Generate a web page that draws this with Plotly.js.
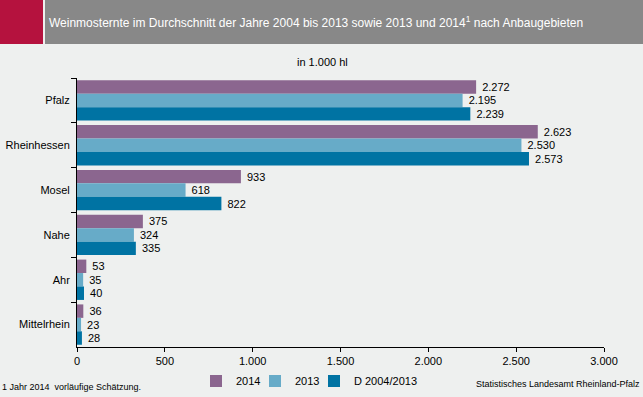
<!DOCTYPE html>
<html><head><meta charset="utf-8">
<script src="https://cdn.plot.ly/plotly-3.0.1.min.js"></script>
<style>html,body{margin:0;padding:0;background:#EEF0EF}</style>
</head><body><div id="chart" style="width:643px;height:397px"></div>
<script>
const categories = ["Pfalz","Rheinhessen","Mosel","Nahe","Ahr","Mittelrhein"];
const seriesNames = ["2014","2013","D 2004/2013"];
const v2014 = [2272,2623,933,375,53,36];
const v2013 = [2195,2530,618,324,35,23];
const vAvg  = [2239,2573,822,335,40,28];
const xTicks = [0,500,1000,1500,2000,2500,3000];
const colors = ["#8B668F","#67ABC8","#0073A3"];
const font = "Liberation Sans, Arial, sans-serif";
const legendIds = ["legend","legend2","legend3"];
const legendX = [196,255,314];

const traces = [v2014,v2013,vAvg].map((vals,i)=>({
  type:"bar", orientation:"h", name:seriesNames[i], legend:legendIds[i],
  x:vals, y:categories, marker:{color:colors[i]},
  text:vals, texttemplate:"\u00a0%{x:,}", textposition:"outside",
  textfont:{size:11,color:"#000",family:font}, cliponaxis:false,
  hoverinfo:"none"
}));

const layout = {
  width:643, height:397,
  paper_bgcolor:"#EEF0EF", plot_bgcolor:"#EEF0EF",
  font:{family:font,size:11,color:"#000"},
  separators:",.",
  margin:{l:77,r:39,t:78,b:50},
  barmode:"group", bargap:0.1, bargroupgap:0,
  showlegend:true,
  xaxis:{range:[0,3000],tickvals:xTicks,tickformat:",d",showgrid:false,zeroline:false,
    showline:true,linecolor:"#000",linewidth:1,ticks:"outside",ticklen:4,tickcolor:"#000",
    tickfont:{size:11}},
  yaxis:{autorange:"reversed",type:"category",showgrid:false,zeroline:false,
    showline:true,linecolor:"#000",linewidth:1,ticks:"outside",tickson:"boundaries",
    ticklen:5,tickcolor:"#000",tickfont:{size:11},ticklabelstandoff:4},
  shapes:[
    {type:"rect",xref:"paper",yref:"paper",x0:-77/527,x1:-34/527,y0:1+34/269,y1:1+78/269,
      fillcolor:"#B5123E",line:{width:0},layer:"below"},
    {type:"rect",xref:"paper",yref:"paper",x0:-32/527,x1:566/527,y0:1+34/269,y1:1+78/269,
      fillcolor:"#888888",line:{width:0},layer:"below"}
  ],
  annotations:[
    {xref:"paper",yref:"paper",x:-30/527,y:1+56/269,xanchor:"left",yanchor:"middle",showarrow:false,
      text:"Weinmosternte im Durchschnitt der Jahre 2004 bis 2013 sowie 2013 und 2014<sup>1</sup> nach Anbaugebieten",
      font:{size:12,color:"#fff",family:font}},
    {xref:"paper",yref:"paper",x:245/527,y:1+16/269,xanchor:"center",yanchor:"middle",showarrow:false,
      text:"in 1.000 hl",font:{size:11}},
    {xref:"paper",yref:"paper",x:-77/527,y:-40/269,xanchor:"left",yanchor:"middle",showarrow:false,
      text:"1 Jahr 2014  vorläufige Schätzung.",font:{size:9}},
    {xref:"paper",yref:"paper",x:565/527,y:-37/269,xanchor:"right",yanchor:"middle",showarrow:false,
      text:"Statistisches Landesamt Rheinland-Pfalz",font:{size:9}}
  ]
};
legendIds.forEach((id,i)=>{
  layout[id] = {orientation:"h",xref:"container",yref:"container",x:legendX[i]/643,xanchor:"left",
    y:(397-381)/397,yanchor:"middle",font:{size:11,family:font},bgcolor:"rgba(0,0,0,0)",
    itemwidth:30,tracegroupgap:0};
});
Plotly.newPlot("chart",traces,layout,{displayModeBar:false,staticPlot:true});
</script></body></html>
